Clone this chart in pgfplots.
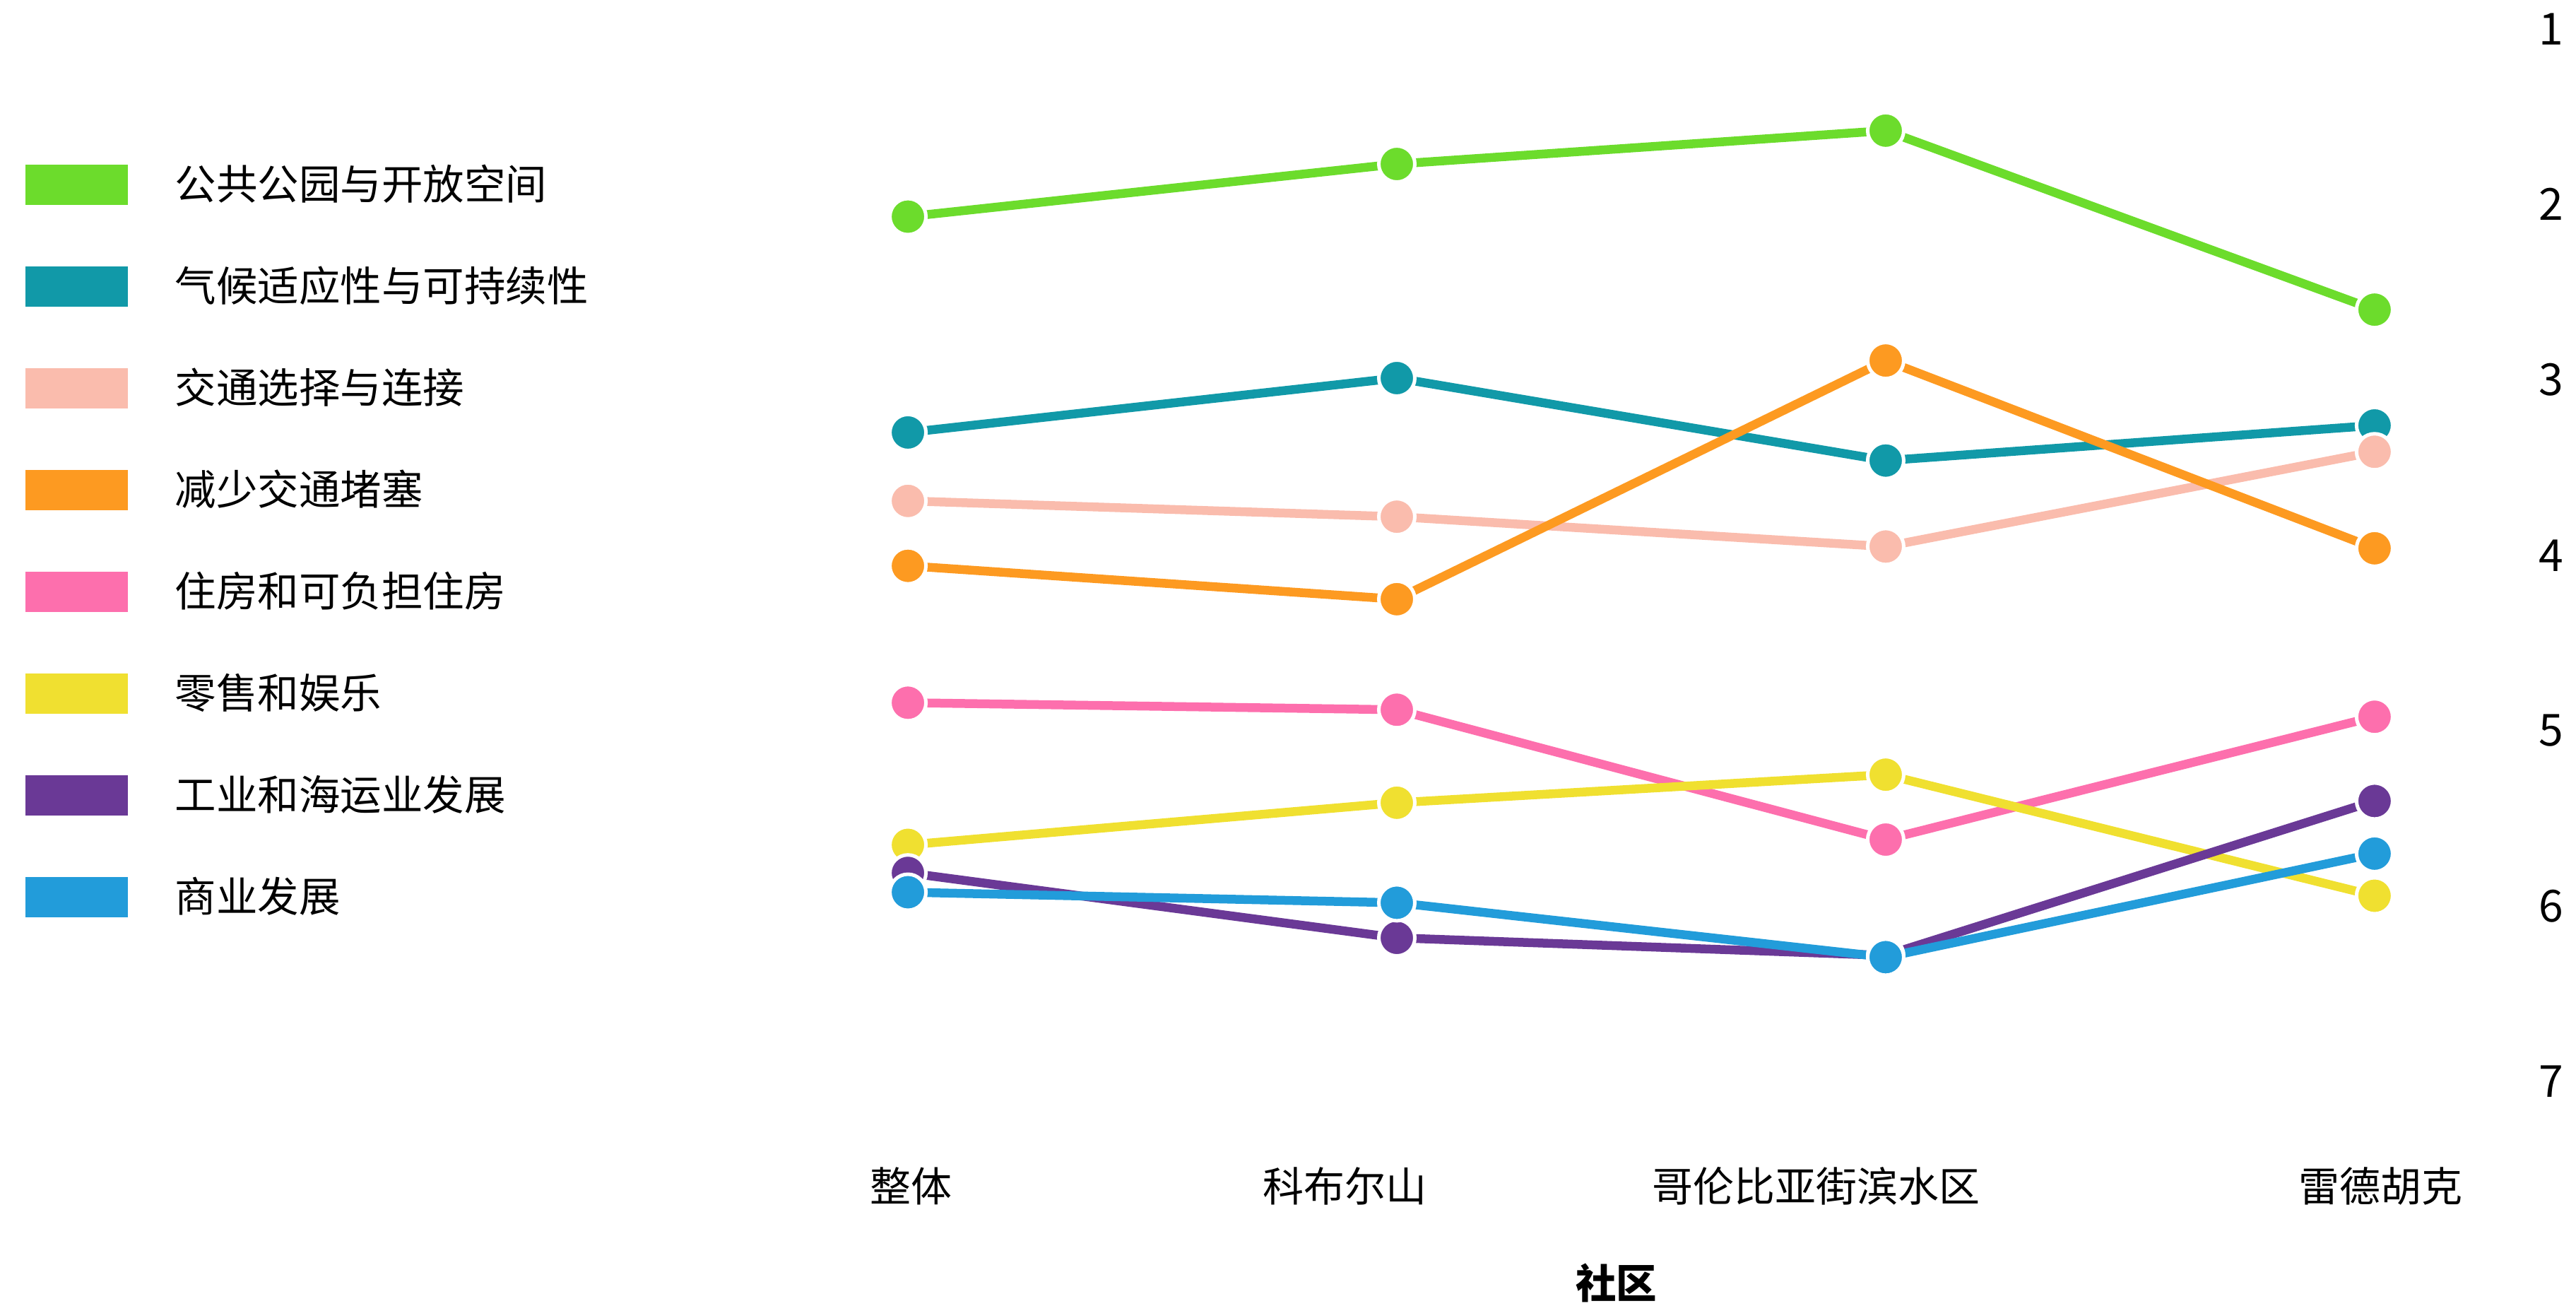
\documentclass[border=0pt]{standalone}
\usepackage{pgfplots}
\pgfplotsset{compat=1.18}
\usepackage{fontspec}
\setmainfont{Noto Sans CJK SC}
\definecolor{cGreen}{HTML}{6CDC2C}
\definecolor{cTeal}{HTML}{1199A8}
\definecolor{cPeach}{HTML}{FABCAD}
\definecolor{cOrange}{HTML}{FD9A21}
\definecolor{cPink}{HTML}{FD6FAD}
\definecolor{cYellow}{HTML}{F0E030}
\definecolor{cPurple}{HTML}{6A3996}
\definecolor{cBlue}{HTML}{229CDA}
\begin{document}
\begin{tikzpicture}
\begin{axis}[
 scale only axis, width=498.2pt, height=322.8pt,
 xmin=-0.3, xmax=3.3, ymin=0.9, ymax=7.4, y dir=reverse,
 clip=false,
 axis line style={draw=none}, major tick length=0pt,
 xtick={0.007,0.894,1.857,3.012}, xticklabels={整体,科布尔山,哥伦比亚街滨水区,雷德胡克},
 xticklabel style={anchor=center, yshift=-9.7pt, font=\fontsize{11.6}{13}\selectfont},
 ytick={1,2,3,4,5,6,7}, yticklabel pos=right,
 yticklabel style={anchor=center, xshift=8.5pt, font=\fontsize{12.5}{14}\selectfont},
 /pgf/number format/assume math mode=true,
 xlabel={社区},
 xlabel style={at={(axis cs:1.449,7.4)}, anchor=center, yshift=-37.1pt, font=\fontsize{11.5}{13}\selectfont\bfseries},
 every axis plot/.append style={line width=2.5pt, mark=*, mark size=5.1pt, mark options={draw=white, line width=1pt}},
 legend image code/.code={\fill[#1,draw=none] (0pt,-5.7pt) rectangle (29pt,5.7pt);},
 legend cell align=left,
 legend style={at={(axis description cs:-0.4185,0.8662)}, anchor=north west, draw=none, fill=none, inner sep=0pt, row sep=17.4pt, column sep=13.4pt, nodes={inner sep=0pt, anchor=west}, font=\fontsize{11.7}{13}\selectfont},
]
\addplot[color=cGreen] coordinates {(0,2.07) (1,1.77) (2,1.58) (3,2.60)};
\addlegendentry{公共公园与开放空间}
\addplot[color=cTeal] coordinates {(0,3.30) (1,2.99) (2,3.46) (3,3.26)};
\addlegendentry{气候适应性与可持续性}
\addplot[color=cPeach] coordinates {(0,3.69) (1,3.78) (2,3.95) (3,3.41)};
\addlegendentry{交通选择与连接}
\addplot[color=cOrange] coordinates {(0,4.06) (1,4.25) (2,2.89) (3,3.96)};
\addlegendentry{减少交通堵塞}
\addplot[color=cPink] coordinates {(0,4.84) (1,4.88) (2,5.62) (3,4.92)};
\addlegendentry{住房和可负担住房}
\addplot[color=cYellow] coordinates {(0,5.65) (1,5.41) (2,5.25) (3,5.94)};
\addlegendentry{零售和娱乐}
\addplot[color=cPurple] coordinates {(0,5.81) (1,6.18) (2,6.28) (3,5.40)};
\addlegendentry{工业和海运业发展}
\addplot[color=cBlue] coordinates {(0,5.92) (1,5.98) (2,6.29) (3,5.70)};
\addlegendentry{商业发展}
\coordinate (tl) at (axis cs:-0.3,0.9);
\end{axis}
\pgfresetboundingbox
\useasboundingbox (tl) ++(-215.5pt,3.2pt) rectangle ++(729.2pt,-369.6pt);
\end{tikzpicture}
\end{document}
